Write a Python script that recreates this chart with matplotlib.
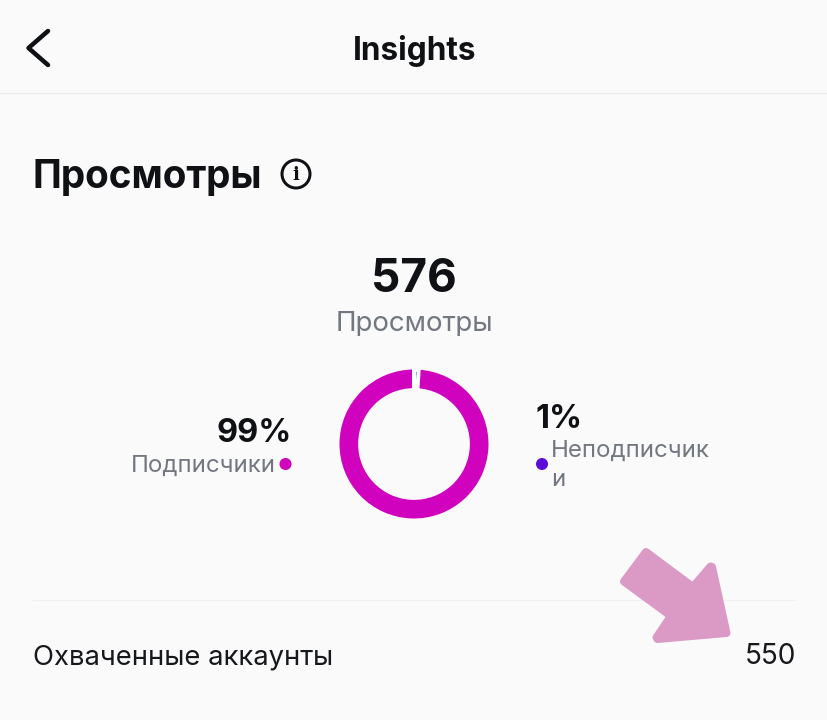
import matplotlib
matplotlib.use("Agg")
import matplotlib.pyplot as plt
from matplotlib.patches import Circle, Polygon

# Data
segment_labels = ["Неподписчики", "Подписчики"]
segment_values = [1, 99]
segment_colors = ["#5A0BD6", "#D102BE"]
total_views = 576
reach_value = 550

W, H = 828, 720
BG = "#FAFAFA"
DARK = "#0F1115"
GREY = "#737780"
PX = 72 / 100  # pixels to points at dpi=100

plt.rcParams["font.family"] = ["Inter", "DejaVu Sans"]
fig = plt.figure(figsize=(W / 100, H / 100), dpi=100, facecolor=BG)
ax = fig.add_axes([0, 0, 1, 1])
ax.set_xlim(0, W)
ax.set_ylim(H, 0)
ax.axis("off")


def label(x, y, s, size, weight="normal", color=DARK, ha="left", **kw):
    ax.text(x, y, s, fontsize=size * PX, fontweight=weight, color=color,
            ha=ha, va="center", **kw)


# Header
ax.plot([48, 28.5, 48], [31, 48, 65], color=DARK, lw=4.5 * PX,
        solid_capstyle="round", solid_joinstyle="round")
label(414.5, 51, "Insights", 31.5, "bold", ha="center")
ax.plot([0, W], [92.5, 92.5], color="#E9E9E9", lw=1.2 * PX)

# Section title
label(32.5, 178, "Просмотры", 38.7, "bold")
ax.add_patch(Circle((296, 174), 14, fc="none", ec=DARK, lw=3 * PX))
label(296, 174.5, "i", 18, "bold", ha="center", family="DejaVu Serif")

# Centre numbers
label(414, 280, str(total_views), 46, "bold", ha="center")
label(414, 324, "Просмотры", 27.7, color=GREY, ha="center")

# Donut
cx, cy, r = 414, 444, 74.5
pie_ax = fig.add_axes([(cx - r) / W, 1 - (cy + r) / H, 2 * r / W, 2 * r / H])
wedges, _ = pie_ax.pie(segment_values, colors=segment_colors, startangle=90,
                       counterclock=False, radius=1, normalize=True,
                       wedgeprops=dict(width=0.25, linewidth=0))
wedges[0].set_edgecolor("white")
wedges[0].set_linewidth(4 * PX)
wedges[0].set_zorder(5)
pie_ax.set_xlim(-1, 1)
pie_ax.set_ylim(-1, 1)
pie_ax.patch.set_alpha(0)
for a in pie_ax.patches:
    a.set_clip_on(False)

# Left legend
label(291.5, 433, f"{segment_values[1]}%", 32.5, "bold", ha="right")
label(275.5, 466, segment_labels[1], 24, color=GREY, ha="right")
ax.add_patch(Circle((285.5, 464), 6, fc=segment_colors[1], ec="none"))

# Right legend
label(536, 419, f"{segment_values[0]}%", 32.5, "bold")
ax.add_patch(Circle((542, 464), 6, fc=segment_colors[0], ec="none"))
label(551, 451, segment_labels[0][:-1], 24, color=GREY)
label(551, 480, segment_labels[0][-1], 24, color=GREY)

# Bottom row
ax.plot([33, 795], [599.5, 599.5], color="#F1F1F1", lw=1.2 * PX)
label(33, 657, "Охваченные аккаунты", 27.4, color="#16181C")
label(796, 656.5, str(reach_value), 28, color="#16181C", ha="right")

# Overlay arrow
arrow = [(646, 552), (693, 587), (710.5, 566.5), (712, 567), (726.5, 633),
         (657.5, 639), (656.5, 637.5), (671, 616), (624, 581.5)]
ax.add_patch(Polygon(arrow, closed=True, fc="#DB9AC6", ec="#DB9AC6",
                     lw=8 * PX, joinstyle="round", zorder=6))

fig.savefig("out.png", dpi=100, facecolor=BG)
